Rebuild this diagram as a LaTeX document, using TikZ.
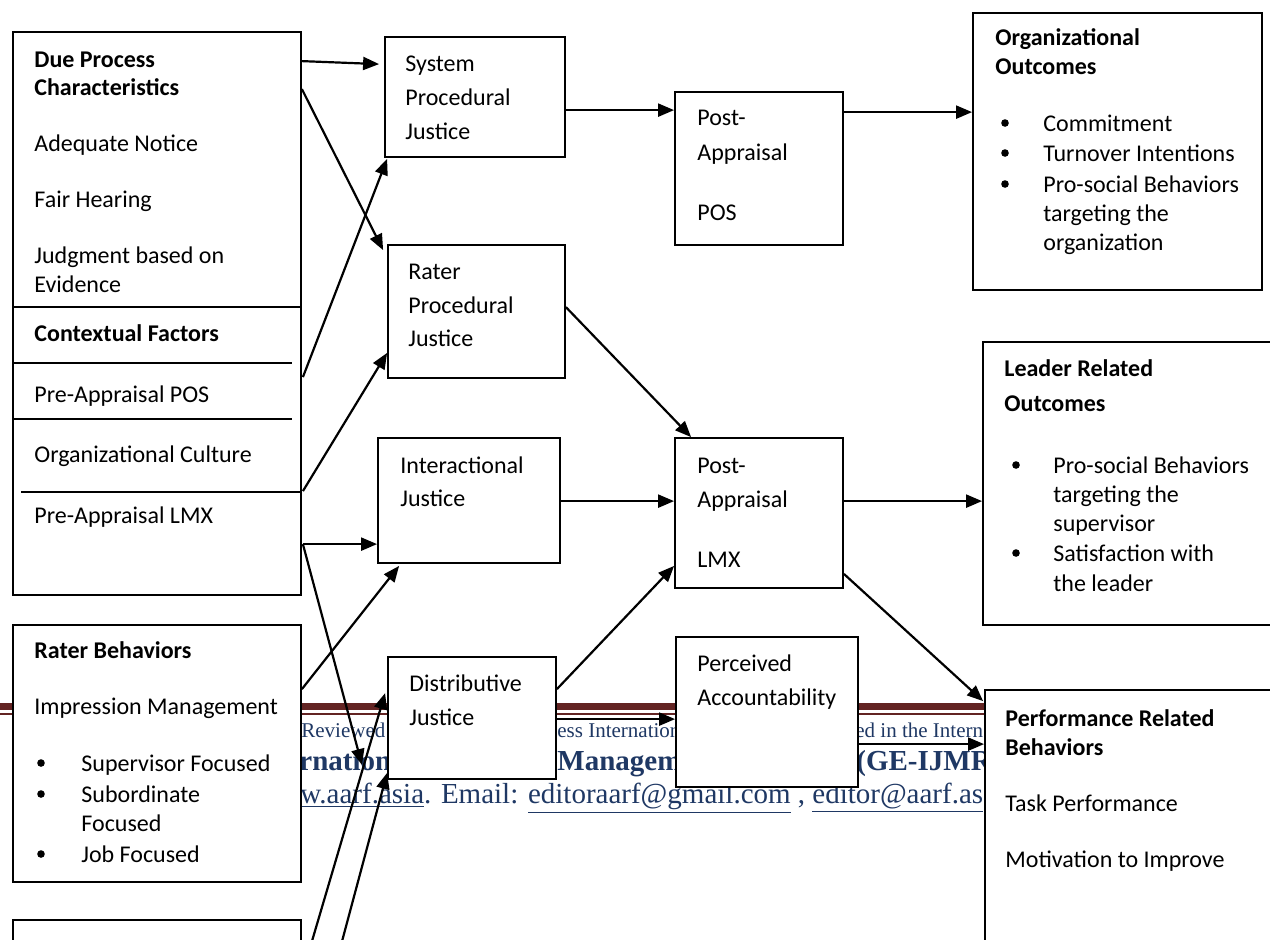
\documentclass[tikz,border=0pt]{standalone}
\usepackage{fontspec}
\setmainfont{Carlito}
\newfontfamily\footfont{Liberation Serif}
\usetikzlibrary{arrows.meta,calc,fit}
\definecolor{footred}{RGB}{99,36,35}
\definecolor{footblue}{RGB}{31,56,100}

\begin{document}
\begin{tikzpicture}[x=0.5pt, y=-0.5pt,
  box/.style={draw, line width=0.9pt, fill=white, inner sep=0pt},
  txt/.style={anchor=west, inner sep=0pt, yshift=-1pt, text height=8pt, text depth=2pt, font=\fontsize{12}{14}\selectfont},
  hd/.style={txt, font=\fontsize{12}{14}\selectfont\bfseries},
  dot/.style={circle, fill, inner sep=0pt, minimum size=3.8pt},
  foot/.style={anchor=base west, inner sep=0pt, text=footblue},
  arr/.style={line width=1.1pt, -{Triangle[length=8pt,width=6.5pt]}}]
  \useasboundingbox (0,0) rectangle (1270,939);
  \clip (0,0) rectangle (1270,939);
  \fill[white] (0,0) rectangle (1270,939);

  % page footer behind the figure
  \draw[footred, line width=3.5pt] (0,706) -- (1270,706);
  \draw[footred, line width=1pt] (0,714) -- (1270,714);
  \node[foot, font=\footfont\fontsize{10.5}{12}\selectfont] (ftrev) at (301,737) {Reviewed};
  \node[foot, font=\footfont\fontsize{10.5}{12}\selectfont] (ftint) at (557,737) {ess Internation};
  \node[foot, font=\footfont\fontsize{10.5}{12}\selectfont] (ftpub) at (855,737) {ed in the Intern};
  \node[foot, font=\footfont\fontsize{14.5}{16}\selectfont\bfseries] (ftjou) at (299,770) {rnation};
  \node[foot, font=\footfont\fontsize{14.5}{16}\selectfont\bfseries] (ftman) at (557,770) {Managem};
  \node[foot, font=\footfont\fontsize{14.5}{16}\selectfont\bfseries] (ftgei) at (856,770) {(GE-IJMR};
  \node[foot, font=\footfont\fontsize{14.5}{16}\selectfont] (ftweb) at (300,803) {\underline{w.aarf.asia}. Email: \underline{editoraarf@gmail.com} , \underline{editor@aarf.as}};

  % boxes
  \node[box, fit={(13,32) (301,307)}] (due) {};
  \node[box, fit={(13,307) (301,595)}] (ctx) {};
  \node[box, fit={(13,625) (301,882)}] (rat) {};
  \node[box, fit={(13,920) (301,1000)}] (oth) {};
  \node[box, fit={(385,37) (565,157)}] (sys) {};
  \node[box, fit={(388,245) (565,378)}] (rpj) {};
  \node[box, fit={(378,438) (560,563)}] (ij) {};
  \node[box, fit={(388,657) (556,779)}] (dj) {};
  \node[box, fit={(675,92) (843,245)}] (pos) {};
  \node[box, fit={(675,438) (843,588)}] (lmx) {};
  \node[box, fit={(676,637) (858,787)}] (acc) {};
  \node[box, fit={(973,13) (1262,290)}] (org) {};
  \node[box, fit={(983,342) (1290,625)}] (lead) {};
  \node[box, fit={(985,690) (1290,1000)}] (perf) {};

  % rules inside the contextual factors box
  \draw[line width=0.9pt] (13,363) -- (292,363);
  \draw[line width=0.9pt] (13,419) -- (292,419);
  \draw[line width=0.9pt] (21,492) -- (302,492);

  % texts
  \node[hd] (due1) at (34,59) {Due Process};
  \node[hd] (due2) at (34,87) {Characteristics};
  \node[txt] (due3) at (34,143) {Adequate Notice};
  \node[txt] (due4) at (34,199) {Fair Hearing};
  \node[txt] (due5) at (34,255) {Judgment based on};
  \node[txt] (due6) at (34,284) {Evidence};

  \node[hd] (ctx1) at (34,333) {Contextual Factors};
  \node[txt] (ctx2) at (34,394) {Pre-Appraisal POS};
  \node[txt] (ctx3) at (34,454) {Organizational Culture};
  \node[txt] (ctx4) at (34,515) {Pre-Appraisal LMX};

  \node[hd] (rat1) at (34,650) {Rater Behaviors};
  \node[txt] (rat2) at (34,706) {Impression Management};
  \node[dot] (ratd1) at (41,763) {};
  \node[txt] (rat3) at (81,763) {Supervisor Focused};
  \node[dot] (ratd2) at (41,794) {};
  \node[txt] (rat4) at (81,794) {Subordinate};
  \node[txt] (rat5) at (81,823) {Focused};
  \node[dot] (ratd3) at (41,854) {};
  \node[txt] (rat6) at (81,854) {Job Focused};

  \node[txt] (sys1) at (405,63) {System};
  \node[txt] (sys2) at (405,97) {Procedural};
  \node[txt] (sys3) at (405,131) {Justice};

  \node[txt] (rpj1) at (408,271) {Rater};
  \node[txt] (rpj2) at (408,305) {Procedural};
  \node[txt] (rpj3) at (408,338) {Justice};

  \node[txt] (ij1) at (400,465) {Interactional};
  \node[txt] (ij2) at (400,498) {Justice};

  \node[txt] (dj1) at (409,683) {Distributive};
  \node[txt] (dj2) at (409,717) {Justice};

  \node[txt] (pos1) at (697,117) {Post-};
  \node[txt] (pos2) at (697,152) {Appraisal};
  \node[txt] (pos3) at (697,212) {POS};

  \node[txt] (lmx1) at (697,465) {Post-};
  \node[txt] (lmx2) at (697,499) {Appraisal};
  \node[txt] (lmx3) at (697,559) {LMX};

  \node[txt] (acc1) at (697,663) {Perceived};
  \node[txt] (acc2) at (697,697) {Accountability};

  \node[hd] (org1) at (995,37) {Organizational};
  \node[hd] (org2) at (995,66) {Outcomes};
  \node[dot] (orgd1) at (1005,123) {};
  \node[txt] (org3) at (1043,123) {Commitment};
  \node[dot] (orgd2) at (1005,153) {};
  \node[txt] (org4) at (1043,153) {Turnover Intentions};
  \node[dot] (orgd3) at (1005,184) {};
  \node[txt] (org5) at (1043,184) {Pro-social Behaviors};
  \node[txt] (org6) at (1043,213) {targeting the};
  \node[txt] (org7) at (1043,242) {organization};

  \node[hd] (lead1) at (1004,368) {Leader Related};
  \node[hd] (lead2) at (1004,403) {Outcomes};
  \node[dot] (leadd1) at (1016,465) {};
  \node[txt] (lead3) at (1053,465) {Pro-social Behaviors};
  \node[txt] (lead4) at (1053,494) {targeting the};
  \node[txt] (lead5) at (1053,523) {supervisor};
  \node[dot] (leadd2) at (1016,553) {};
  \node[txt] (lead6) at (1053,553) {Satisfaction with};
  \node[txt] (lead7) at (1053,583) {the leader};

  \node[hd] (perf1) at (1005,718) {Performance Related};
  \node[hd] (perf2) at (1005,747) {Behaviors};
  \node[txt] (perf3) at (1005,803) {Task Performance};
  \node[txt] (perf4) at (1005,859) {Motivation to Improve};

  % connectors
  \coordinate (lmxend) at (362,765);
  \coordinate (low1) at (302,975);
  \coordinate (low2) at (333,975);
  \coordinate (s1) at ($(sys.north east)+(0,74)$);
  \coordinate (s2) at ($(pos.north east)+(0,21)$);
  \coordinate (s3) at ($(ctx.north east)+(1,238)$);
  \coordinate (s4) at ($(ij.north east)+(0,64)$);
  \coordinate (s5) at ($(dj.north east)+(0,63)$);
  \coordinate (s6) at ($(lmx.north east)+(0,64)$);
  \coordinate (s7) at ($(acc.north east)+(0,108)$);

  \draw[arr] ($(due.north east)+(0,30)$) -- ($(sys.north west)+(-5,28)$);
  \draw[arr] ($(due.north east)+(0,58)$) -- ($(rpj.north west)+(-4,6)$);
  \draw[arr] ($(ctx.north east)+(1,71)$) -- ($(sys.south west)+(3,1)$);
  \draw[arr] ($(ctx.north east)+(1,185)$) -- ($(rpj.south west)+(0,-26)$);
  \draw[arr] (s3) -- (s3 -| ij.west);
  \draw[arr] (s3) -- (lmxend);
  \draw[arr] ($(rat.north east)+(0,65)$) -- ($(ij.south west)+(22,2)$);
  \draw[arr] (low1) -- ($(dj.north west)+(-2,37)$);
  \draw[arr] (low2) -- ($(dj.south west)+(0,-7)$);
  \draw[arr] (s1) -- (s1 -| pos.west);
  \draw[arr] (s2) -- (s2 -| org.west);
  \draw[arr] ($(rpj.north east)+(0,63)$) -- ($(lmx.north west)+(17,0)$);
  \draw[arr] (s4) -- (s4 -| lmx.west);
  \draw[arr] ($(dj.north east)+(0,33)$) -- ($(lmx.south west)+(0,-23)$);
  \draw[arr] (s5) -- (s5 -| acc.west);
  \draw[arr] (s6) -- (s6 -| lead.west);
  \draw[arr] ($(lmx.south east)+(0,-15)$) -- ($(perf.north west)+(-1,12)$);
  \draw[arr] (s7) -- (s7 -| perf.west);
\end{tikzpicture}
\end{document}
